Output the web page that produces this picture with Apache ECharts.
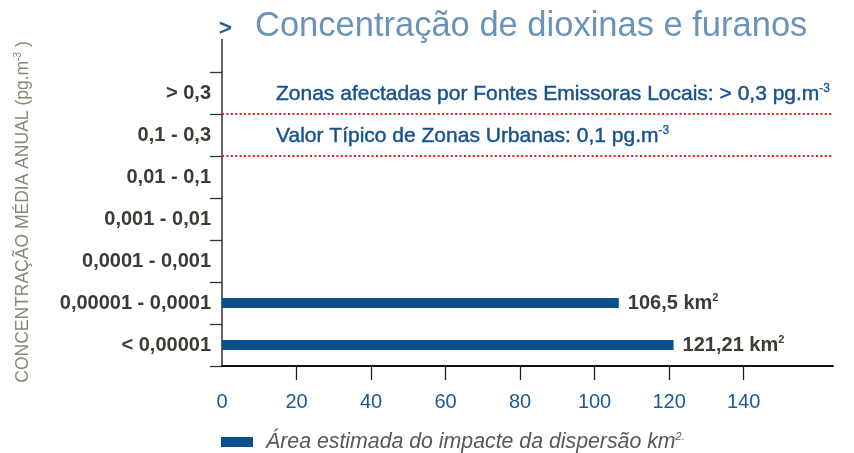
<!DOCTYPE html>
<html>
<head>
<meta charset="utf-8">
<script src="https://cdn.jsdelivr.net/npm/echarts@6/dist/echarts.min.js"></script>
<style>html,body{margin:0;padding:0;background:#fff}#c{width:854px;height:453px}</style>
</head>
<body>
<div id="c"></div>
<script>
const categories = ['> 0,3', '0,1 - 0,3', '0,01 - 0,1', '0,001 - 0,01', '0,0001 - 0,001', '0,00001 - 0,0001', '< 0,00001'];
const areaValues = [null, null, null, null, null, 106.5, 121.21];
const xTickLabels = [0, 20, 40, 60, 80, 100, 120, 140];
const xTicks = [20, 40, 60, 80, 100, 120, 140];
const thresholdLines = [6, 5];
const titleText = 'Concentração de dioxinas e furanos';
const seriesName = 'Área estimada do impacte da dispersão km2.';
const yTitle = 'CONCENTRAÇÃO MÉDIA ANUAL (pg.m';
const noteTexts = ['Zonas afectadas por Fontes Emissoras Locais: > 0,3 pg.m', 'Valor Típico de Zonas Urbanas: 0,1 pg.m'];

const FONT = '"Liberation Sans", Arial, Helvetica, sans-serif';
const chart = echarts.init(document.getElementById('c'), null, {renderer: 'canvas'});

const noteRich = {
  a: {fontSize: 21, fontFamily: FONT, fill: '#17528e', stroke: '#17528e', lineWidth: 0.45, lineHeight: 22},
  s: {fontSize: 12, fontFamily: FONT, fill: '#17528e', stroke: '#17528e', lineWidth: 0.3, verticalAlign: 'top', lineHeight: 22}
};

const option = {
  backgroundColor: '#ffffff',
  animation: false,
  textStyle: {fontFamily: FONT},
  title: {
    text: titleText,
    left: 255, top: 9, padding: 0,
    textStyle: {fontFamily: FONT, fontSize: 34.5, fontWeight: 'normal', color: '#6b93ba'}
  },
  legend: {
    left: 221, top: 431, padding: 0,
    icon: 'rect', itemWidth: 32, itemHeight: 10, itemGap: 12,
    data: [seriesName],
    formatter: () => '{a|Área estimada do impacte da dispersão km}{s|2.}',
    textStyle: {
      fontFamily: FONT,
      rich: {
        a: {fontSize: 21.3, fontStyle: 'italic', color: '#58585a', fontFamily: FONT, lineHeight: 22, padding: [0, 0, 0, 8]},
        s: {fontSize: 11, fontStyle: 'italic', color: '#58585a', fontFamily: FONT, verticalAlign: 'top', lineHeight: 22}
      }
    }
  },
  grid: {left: 222, right: 21, top: 72, bottom: 87, containLabel: false},
  xAxis: {
    type: 'value', min: 0, max: 164, interval: 20,
    axisLine: {show: true, lineStyle: {color: '#111', width: 2}},
    axisTick: {show: true, length: 14, lineStyle: {color: '#222', width: 1.3}, customValues: xTicks},
    axisLabel: {customValues: xTickLabels, margin: 26, fontSize: 20, color: '#1b5a96', fontFamily: FONT},
    splitLine: {show: false}
  },
  yAxis: [{
    type: 'category', data: categories, inverse: true,
    axisLine: {show: true, lineStyle: {color: '#333', width: 1.5}},
    axisTick: {show: true, length: 12, lineStyle: {color: '#333', width: 1.3}},
    axisLabel: {margin: 11, fontSize: 20, fontWeight: 'bold', color: '#3c3c34', fontFamily: FONT},
    splitLine: {show: false}
  }, {
    type: 'value', min: 0, max: 7, show: false
  }],
  series: [{
    name: seriesName,
    type: 'bar',
    data: areaValues,
    barWidth: 10,
    itemStyle: {color: '#0b4f8a'},
    label: {
      show: true, position: 'right', distance: 9,
      formatter: p => '{v|' + String(p.value).replace('.', ',') + ' km}{s|2}',
      rich: {
        v: {fontSize: 20, fontWeight: 'bold', color: '#3c3c34', fontFamily: FONT, lineHeight: 22},
        s: {fontSize: 11, fontWeight: 'bold', color: '#3c3c34', fontFamily: FONT, verticalAlign: 'top', lineHeight: 22}
      }
    }
  }, {
    name: 'limiares',
    type: 'line',
    yAxisIndex: 1,
    data: [],
    silent: true,
    markLine: {
      silent: true, symbol: 'none',
      label: {show: false},
      lineStyle: {color: '#ee1c25', type: [2, 2.4], width: 2},
      data: thresholdLines.map(v => ({yAxis: v}))
    }
  }],
  graphic: [
    {type: 'line', shape: {x1: 222, y1: 39, x2: 222, y2: 72}, style: {stroke: '#333', lineWidth: 1.5}, silent: true},
    {type: 'text', x: 219, y: 29, style: {text: '>', fontSize: 22, fontFamily: FONT, fill: '#1b5592', stroke: '#1b5592', lineWidth: 0.6, verticalAlign: 'middle', align: 'left'}},
    {type: 'text', x: 276, y: 94, style: {
      text: '{a|' + noteTexts[0] + '}{s|-3}',
      verticalAlign: 'middle', align: 'left', rich: noteRich
    }},
    {type: 'text', x: 276, y: 136, style: {
      text: '{a|' + noteTexts[1] + '}{s|-3}',
      verticalAlign: 'middle', align: 'left', rich: noteRich
    }},
    {type: 'text', x: 23, y: 212, rotation: Math.PI / 2, style: {
      text: '{a|' + yTitle + '}{s|-3}{a| )}',
      align: 'center', verticalAlign: 'middle',
      rich: {
        a: {fontSize: 17.5, fontFamily: FONT, fill: '#878775', lineHeight: 20},
        s: {fontSize: 10, fontFamily: FONT, fill: '#878775', verticalAlign: 'top', lineHeight: 20}
      }
    }}
  ]
};
chart.setOption(option);
</script>
</body>
</html>
